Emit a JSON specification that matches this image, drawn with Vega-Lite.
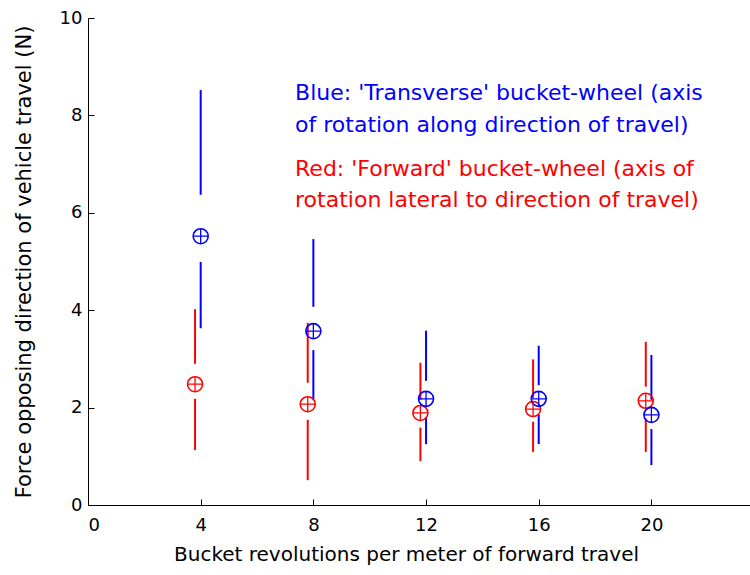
{
  "$schema": "https://vega.github.io/schema/vega-lite/v6.json",
  "width": 662,
  "height": 487,
  "autosize": {"type": "none"},
  "padding": {"left": 88, "top": 18, "right": 0, "bottom": 70},
  "background": "white",
  "config": {
    "view": {"stroke": null},
    "font": "DejaVu Sans",
    "axis": {
      "domainColor": "black",
      "tickColor": "black",
      "labelColor": "black",
      "titleColor": "black",
      "labelFont": "DejaVu Sans",
      "titleFont": "DejaVu Sans",
      "labelFontSize": 18,
      "titleFontSize": 20,
      "titleFontWeight": "normal",
      "grid": false,
      "tickSize": -6,
      "domainWidth": 1,
      "tickWidth": 1
    }
  },
  "datasets": {
    "bars": [
      {"series": "Red", "x": 3.8, "lo": 2.9, "hi": 4.02},
      {"series": "Red", "x": 3.8, "lo": 1.13, "hi": 2.18},
      {"series": "Red", "x": 7.8, "lo": 2.51, "hi": 3.74},
      {"series": "Red", "x": 7.8, "lo": 0.51, "hi": 1.75},
      {"series": "Red", "x": 11.8, "lo": 2.16, "hi": 2.92},
      {"series": "Red", "x": 11.8, "lo": 0.9, "hi": 1.59},
      {"series": "Red", "x": 15.8, "lo": 2.2, "hi": 2.99},
      {"series": "Red", "x": 15.8, "lo": 1.09, "hi": 1.71},
      {"series": "Red", "x": 19.8, "lo": 2.43, "hi": 3.35},
      {"series": "Red", "x": 19.8, "lo": 1.09, "hi": 1.78},
      {"series": "Blue", "x": 4, "lo": 6.37, "hi": 8.52},
      {"series": "Blue", "x": 4, "lo": 3.63, "hi": 4.99},
      {"series": "Blue", "x": 8, "lo": 4.07, "hi": 5.46},
      {"series": "Blue", "x": 8, "lo": 2.16, "hi": 3.18},
      {"series": "Blue", "x": 12, "lo": 2.55, "hi": 3.58},
      {"series": "Blue", "x": 12, "lo": 1.25, "hi": 1.81},
      {"series": "Blue", "x": 16, "lo": 2.46, "hi": 3.27},
      {"series": "Blue", "x": 16, "lo": 1.25, "hi": 1.85},
      {"series": "Blue", "x": 20, "lo": 2.16, "hi": 3.08},
      {"series": "Blue", "x": 20, "lo": 0.82, "hi": 1.56}
    ],
    "points": [
      {"series": "Red", "x": 3.8, "y": 2.48},
      {"series": "Red", "x": 7.8, "y": 2.07},
      {"series": "Red", "x": 11.8, "y": 1.89},
      {"series": "Red", "x": 15.8, "y": 1.97},
      {"series": "Red", "x": 19.8, "y": 2.14},
      {"series": "Blue", "x": 4, "y": 5.52},
      {"series": "Blue", "x": 8, "y": 3.57},
      {"series": "Blue", "x": 12, "y": 2.18},
      {"series": "Blue", "x": 16, "y": 2.18},
      {"series": "Blue", "x": 20, "y": 1.85}
    ],
    "notes": [
      {"series": "Blue", "x": 7.35, "y": 8.46, "label": "Blue: 'Transverse' bucket-wheel (axis"},
      {"series": "Blue", "x": 7.35, "y": 7.8, "label": "of rotation along direction of travel)"},
      {"series": "Red", "x": 7.35, "y": 6.9, "label": "Red: 'Forward' bucket-wheel (axis of"},
      {"series": "Red", "x": 7.35, "y": 6.26, "label": "rotation lateral to direction of travel)"}
    ]
  },
  "encoding": {
    "x": {
      "field": "x",
      "type": "quantitative",
      "scale": {"domain": [0, 23.5], "nice": false, "zero": false},
      "axis": {"values": [0, 4, 8, 12, 16, 20], "title": "Bucket revolutions per meter of forward travel", "labelPadding": 17, "titlePadding": 10, "titleX": 318, "titleAlign": "center"}
    },
    "color": {
      "field": "series",
      "type": "nominal",
      "scale": {"domain": ["Blue", "Red"], "range": ["#0000ff", "#ff0000"]},
      "legend": null
    }
  },
  "layer": [
    {
      "data": {"name": "bars"},
      "mark": {"type": "rule", "strokeWidth": 2},
      "encoding": {
        "y": {
          "field": "lo",
          "type": "quantitative",
          "scale": {"domain": [0, 10], "nice": false},
          "axis": {"values": [0, 2, 4, 6, 8, 10], "title": "Force opposing direction of vehicle travel (N)", "labelPadding": 12, "titlePadding": 25, "titleFontSize": 21}
        },
        "y2": {"field": "hi"}
      }
    },
    {
      "data": {"name": "points"},
      "mark": {"type": "point", "shape": "circle", "filled": false, "size": 225, "strokeWidth": 1.6, "opacity": 1},
      "encoding": {"y": {"field": "y", "type": "quantitative"}}
    },
    {
      "data": {"name": "points"},
      "mark": {"type": "point", "shape": "M-1,0L1,0M0,-1L0,1", "filled": false, "size": 225, "strokeWidth": 1.3, "opacity": 1},
      "encoding": {"y": {"field": "y", "type": "quantitative"}}
    },
    {
      "data": {"name": "notes"},
      "mark": {"type": "text", "align": "left", "baseline": "middle", "fontSize": 22},
      "encoding": {
        "y": {"field": "y", "type": "quantitative"},
        "text": {"field": "label"}
      }
    }
  ]
}
